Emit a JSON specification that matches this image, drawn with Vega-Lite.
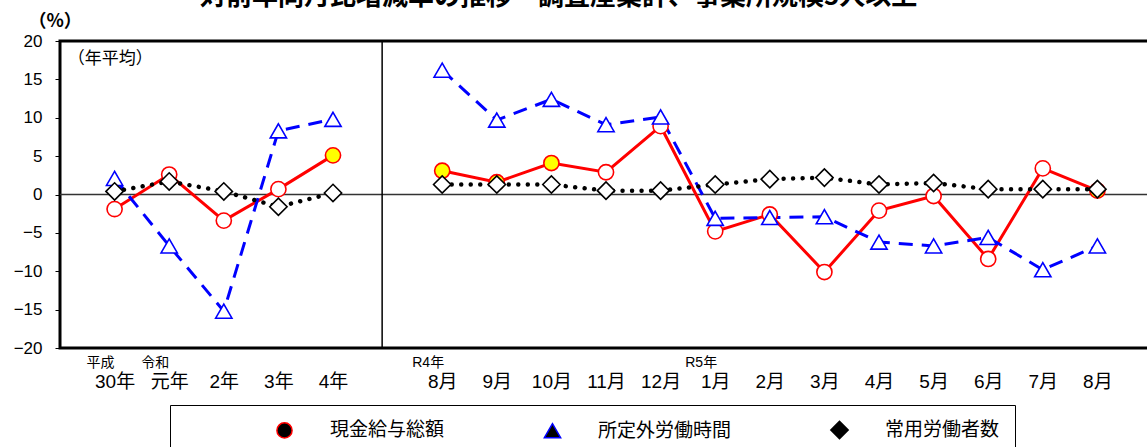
{
  "$schema": "https://vega.github.io/schema/vega-lite/v6.json",
  "autosize": "none",
  "width": 1092,
  "height": 307,
  "padding": {"left": 60, "top": 41, "right": 0, "bottom": 99},
  "background": "white",
  "title": {
    "text": "対前年同月比増減率の推移　調査産業計、事業所規模5人以上",
    "anchor": "start",
    "frame": "group",
    "dx": 140,
    "dy": -2,
    "offset": 0,
    "fontSize": 26,
    "fontWeight": "bold",
    "font": "Noto Sans CJK JP",
    "color": "black"
  },
  "datasets": {
    "pts": [
      {"s": "現金給与総額", "p": "年", "i": 0, "v": -1.9, "h": "n"},
      {"s": "現金給与総額", "p": "年", "i": 1, "v": 2.6, "h": "n"},
      {"s": "現金給与総額", "p": "年", "i": 2, "v": -3.4, "h": "n"},
      {"s": "現金給与総額", "p": "年", "i": 3, "v": 0.7, "h": "n"},
      {"s": "現金給与総額", "p": "年", "i": 4, "v": 5.1, "h": "y"},
      {"s": "現金給与総額", "p": "月", "i": 6, "v": 3.1, "h": "y"},
      {"s": "現金給与総額", "p": "月", "i": 7, "v": 1.6, "h": "y"},
      {"s": "現金給与総額", "p": "月", "i": 8, "v": 4.1, "h": "y"},
      {"s": "現金給与総額", "p": "月", "i": 9, "v": 2.9, "h": "n"},
      {"s": "現金給与総額", "p": "月", "i": 10, "v": 8.9, "h": "n"},
      {"s": "現金給与総額", "p": "月", "i": 11, "v": -4.8, "h": "n"},
      {"s": "現金給与総額", "p": "月", "i": 12, "v": -2.6, "h": "n"},
      {"s": "現金給与総額", "p": "月", "i": 13, "v": -10.1, "h": "n"},
      {"s": "現金給与総額", "p": "月", "i": 14, "v": -2.1, "h": "n"},
      {"s": "現金給与総額", "p": "月", "i": 15, "v": -0.2, "h": "n"},
      {"s": "現金給与総額", "p": "月", "i": 16, "v": -8.4, "h": "n"},
      {"s": "現金給与総額", "p": "月", "i": 17, "v": 3.4, "h": "n"},
      {"s": "現金給与総額", "p": "月", "i": 18, "v": 0.5, "h": "y"},
      {"s": "所定外労働時間", "p": "年", "i": 0, "v": 2.1, "h": "n"},
      {"s": "所定外労働時間", "p": "年", "i": 1, "v": -6.7, "h": "n"},
      {"s": "所定外労働時間", "p": "年", "i": 2, "v": -15.2, "h": "n"},
      {"s": "所定外労働時間", "p": "年", "i": 3, "v": 8.3, "h": "n"},
      {"s": "所定外労働時間", "p": "年", "i": 4, "v": 9.8, "h": "n"},
      {"s": "所定外労働時間", "p": "月", "i": 6, "v": 16.2, "h": "n"},
      {"s": "所定外労働時間", "p": "月", "i": 7, "v": 9.7, "h": "n"},
      {"s": "所定外労働時間", "p": "月", "i": 8, "v": 12.4, "h": "n"},
      {"s": "所定外労働時間", "p": "月", "i": 9, "v": 9.1, "h": "n"},
      {"s": "所定外労働時間", "p": "月", "i": 10, "v": 10.1, "h": "n"},
      {"s": "所定外労働時間", "p": "月", "i": 11, "v": -3.1, "h": "n"},
      {"s": "所定外労働時間", "p": "月", "i": 12, "v": -3.0, "h": "n"},
      {"s": "所定外労働時間", "p": "月", "i": 13, "v": -2.9, "h": "n"},
      {"s": "所定外労働時間", "p": "月", "i": 14, "v": -6.2, "h": "n"},
      {"s": "所定外労働時間", "p": "月", "i": 15, "v": -6.7, "h": "n"},
      {"s": "所定外労働時間", "p": "月", "i": 16, "v": -5.6, "h": "n"},
      {"s": "所定外労働時間", "p": "月", "i": 17, "v": -9.8, "h": "n"},
      {"s": "所定外労働時間", "p": "月", "i": 18, "v": -6.7, "h": "n"},
      {"s": "常用労働者数", "p": "年", "i": 0, "v": 0.4, "h": "n"},
      {"s": "常用労働者数", "p": "年", "i": 1, "v": 1.7, "h": "n"},
      {"s": "常用労働者数", "p": "年", "i": 2, "v": 0.4, "h": "n"},
      {"s": "常用労働者数", "p": "年", "i": 3, "v": -1.6, "h": "n"},
      {"s": "常用労働者数", "p": "年", "i": 4, "v": 0.2, "h": "n"},
      {"s": "常用労働者数", "p": "月", "i": 6, "v": 1.3, "h": "n"},
      {"s": "常用労働者数", "p": "月", "i": 7, "v": 1.3, "h": "n"},
      {"s": "常用労働者数", "p": "月", "i": 8, "v": 1.3, "h": "n"},
      {"s": "常用労働者数", "p": "月", "i": 9, "v": 0.5, "h": "n"},
      {"s": "常用労働者数", "p": "月", "i": 10, "v": 0.5, "h": "n"},
      {"s": "常用労働者数", "p": "月", "i": 11, "v": 1.3, "h": "n"},
      {"s": "常用労働者数", "p": "月", "i": 12, "v": 2.0, "h": "n"},
      {"s": "常用労働者数", "p": "月", "i": 13, "v": 2.2, "h": "n"},
      {"s": "常用労働者数", "p": "月", "i": 14, "v": 1.3, "h": "n"},
      {"s": "常用労働者数", "p": "月", "i": 15, "v": 1.5, "h": "n"},
      {"s": "常用労働者数", "p": "月", "i": 16, "v": 0.7, "h": "n"},
      {"s": "常用労働者数", "p": "月", "i": 17, "v": 0.7, "h": "n"},
      {"s": "常用労働者数", "p": "月", "i": 18, "v": 0.7, "h": "n"}
    ],
    "era": [
      {"i": 0, "v": -20, "t": "平成"},
      {"i": 1, "v": -20, "t": "令和"},
      {"i": 6, "v": -20, "t": "R4年"},
      {"i": 11, "v": -20, "t": "R5年"}
    ],
    "note": [
      {"i": -0.86, "v": 17.7, "t": "（年平均）"}
    ]
  },
  "encoding": {
    "x": {
      "field": "i", "type": "quantitative", "scale": {"domain": [-1, 19]},
      "axis": {
        "values": [0, 1, 2, 3, 4, 6, 7, 8, 9, 10, 11, 12, 13, 14, 15, 16, 17, 18],
        "labelExpr": "['30年','元年','2年','3年','4年','','8月','9月','10月','11月','12月','1月','2月','3月','4月','5月','6月','7月','8月'][datum.value]",
        "ticks": false, "domain": false, "grid": false, "title": null,
        "labelFontSize": 19, "labelPadding": 24, "labelColor": "black",
        "labelOverlap": false, "labelFlush": false
      }
    },
    "y": {
      "field": "v", "type": "quantitative", "scale": {"domain": [-20, 20]},
      "axis": {
        "values": [-20, -15, -10, -5, 0, 5, 10, 15, 20],
        "grid": false, "domain": false, "tickSize": 5, "tickColor": "black",
        "labelFontSize": 17, "labelPadding": 13, "labelColor": "black",
        "labelOverlap": false, "labelFlush": false,
        "title": "（%）", "titleAngle": 0, "titleX": -32, "titleY": -11,
        "titleAlign": "left", "titleBaseline": "bottom",
        "titleFont": "Noto Sans CJK JP",
        "titleFontSize": 18, "titleFontWeight": "bold", "titleColor": "black"
      }
    }
  },
  "layer": [
    {
      "data": {"values": [{"v": 0, "i": -1}, {"v": 0, "i": 19}]},
      "mark": {"type": "line", "color": "#333333", "strokeWidth": 1.5}
    },
    {
      "data": {"values": [{"i": 4.9, "v": -20}, {"i": 4.9, "v": 20}]},
      "mark": {"type": "line", "color": "black", "strokeWidth": 1.5}
    },
    {
      "data": {"name": "pts"},
      "transform": [{"filter": "datum.s == '現金給与総額'"}],
      "mark": {"type": "line", "color": "#ff0000", "strokeWidth": 3},
      "encoding": {"detail": {"field": "p"}}
    },
    {
      "data": {"name": "pts"},
      "transform": [{"filter": "datum.s == '所定外労働時間'"}],
      "mark": {"type": "line", "color": "#0000ff", "strokeWidth": 3, "strokeDash": [14, 9]},
      "encoding": {"detail": {"field": "p"}}
    },
    {
      "data": {"name": "pts"},
      "transform": [{"filter": "datum.s == '常用労働者数'"}],
      "mark": {"type": "line", "color": "black", "strokeWidth": 4.5, "strokeDash": [0.01, 9.5], "strokeCap": "round"},
      "encoding": {"detail": {"field": "p"}}
    },
    {
      "data": {"name": "pts"},
      "mark": {"type": "point", "filled": true, "strokeWidth": 1.6, "opacity": 1},
      "encoding": {
        "shape": {
          "field": "s", "type": "nominal",
          "scale": {"domain": ["現金給与総額", "所定外労働時間", "常用労働者数"], "range": ["circle", "triangle-up", "diamond"]},
          "legend": {
            "orient": "none", "legendX": 110, "legendY": 364,
            "direction": "horizontal", "title": null,
            "padding": 15, "strokeColor": "black", "fillColor": "white",
            "symbolSize": 256, "symbolOffset": 90, "labelOffset": 36, "columnPadding": 8,
            "labelFontSize": 19, "labelFont": "Noto Sans CJK JP", "labelColor": "black", "labelLimit": 300,
            "encode": {
              "symbols": {
                "shape": {
                  "condition": [
                    {"test": "datum.value == '現金給与総額'", "value": "M-4.2,0H-1.1M1.1,0H4.2M-1.1,0A1.1,1.1,0,1,0,1.1,0A1.1,1.1,0,1,0,-1.1,0Z"},
                    {"test": "datum.value == '所定外労働時間'", "value": "M-3.6,0H-2.3M2.3,0H3.6M-1.4,1.1L0,-1.1L1.4,1.1Z"}
                  ],
                  "value": "M-4.1,0h0.01M-3.1,0h0.01M-2.1,0h0.01M2.1,0h0.01M3.1,0h0.01M0,-1.4L1.2,0L0,1.4L-1.2,0Z"
                },
                "size": {"value": 256},
                "fill": {"value": "white"},
                "fillOpacity": {"value": 1},
                "strokeOpacity": {"value": 1},
                "strokeWidth": {
                  "condition": {"test": "datum.value == '常用労働者数'", "value": 3.5},
                  "value": 2.2
                },
                "strokeCap": {"value": "round"},
                "opacity": {"value": 1}
              }
            }
          }
        },
        "size": {
          "field": "s", "type": "nominal",
          "scale": {"domain": ["現金給与総額", "所定外労働時間", "常用労働者数"], "range": [230, 300, 230]},
          "legend": {
            "orient": "none", "legendX": 110, "legendY": 364,
            "direction": "horizontal", "title": null,
            "padding": 15, "strokeColor": "black", "fillColor": "white",
            "symbolSize": 256, "symbolOffset": 90, "labelOffset": 36, "columnPadding": 8,
            "labelFontSize": 19, "labelFont": "Noto Sans CJK JP", "labelColor": "black", "labelLimit": 300,
            "encode": {
              "symbols": {
                "shape": {
                  "condition": [
                    {"test": "datum.value == '現金給与総額'", "value": "M-4.2,0H-1.1M1.1,0H4.2M-1.1,0A1.1,1.1,0,1,0,1.1,0A1.1,1.1,0,1,0,-1.1,0Z"},
                    {"test": "datum.value == '所定外労働時間'", "value": "M-3.6,0H-2.3M2.3,0H3.6M-1.4,1.1L0,-1.1L1.4,1.1Z"}
                  ],
                  "value": "M-4.1,0h0.01M-3.1,0h0.01M-2.1,0h0.01M2.1,0h0.01M3.1,0h0.01M0,-1.4L1.2,0L0,1.4L-1.2,0Z"
                },
                "size": {"value": 256},
                "fill": {"value": "white"},
                "fillOpacity": {"value": 1},
                "strokeOpacity": {"value": 1},
                "strokeWidth": {
                  "condition": {"test": "datum.value == '常用労働者数'", "value": 3.5},
                  "value": 2.2
                },
                "strokeCap": {"value": "round"},
                "opacity": {"value": 1}
              }
            }
          }
        },
        "fill": {
          "field": "h", "type": "nominal", "legend": null,
          "scale": {"domain": ["n", "y"], "range": ["#ffffff", "#ffff00"]}
        },
        "stroke": {
          "field": "s", "type": "nominal",
          "scale": {"domain": ["現金給与総額", "所定外労働時間", "常用労働者数"], "range": ["#ff0000", "#0000ff", "#000000"]},
          "legend": {
            "orient": "none", "legendX": 110, "legendY": 364,
            "direction": "horizontal", "title": null,
            "padding": 15, "strokeColor": "black", "fillColor": "white",
            "symbolSize": 256, "symbolOffset": 90, "labelOffset": 36, "columnPadding": 8,
            "labelFontSize": 19, "labelFont": "Noto Sans CJK JP", "labelColor": "black", "labelLimit": 300,
            "encode": {
              "symbols": {
                "shape": {
                  "condition": [
                    {"test": "datum.value == '現金給与総額'", "value": "M-4.2,0H-1.1M1.1,0H4.2M-1.1,0A1.1,1.1,0,1,0,1.1,0A1.1,1.1,0,1,0,-1.1,0Z"},
                    {"test": "datum.value == '所定外労働時間'", "value": "M-3.6,0H-2.3M2.3,0H3.6M-1.4,1.1L0,-1.1L1.4,1.1Z"}
                  ],
                  "value": "M-4.1,0h0.01M-3.1,0h0.01M-2.1,0h0.01M2.1,0h0.01M3.1,0h0.01M0,-1.4L1.2,0L0,1.4L-1.2,0Z"
                },
                "size": {"value": 256},
                "fill": {"value": "white"},
                "fillOpacity": {"value": 1},
                "strokeOpacity": {"value": 1},
                "strokeWidth": {
                  "condition": {"test": "datum.value == '常用労働者数'", "value": 3.5},
                  "value": 2.2
                },
                "strokeCap": {"value": "round"},
                "opacity": {"value": 1}
              }
            }
          }
        }
      }
    },
    {
      "data": {"name": "note"},
      "mark": {"type": "text", "align": "left", "baseline": "middle", "fontSize": 17, "font": "Noto Sans CJK JP", "color": "black"},
      "encoding": {"text": {"field": "t"}}
    },
    {
      "data": {"name": "era"},
      "mark": {"type": "text", "align": "center", "baseline": "middle", "fontSize": 14, "color": "black", "dx": -14, "dy": 15},
      "encoding": {"text": {"field": "t"}}
    }
  ],
  "config": {
    "font": "Liberation Sans, Noto Sans CJK JP",
    "view": {"stroke": "black", "strokeWidth": 3}
  }
}
